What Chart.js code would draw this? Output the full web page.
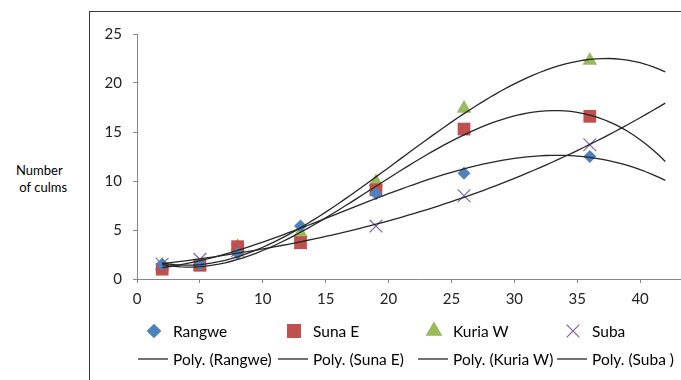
<!DOCTYPE html>
<html>
<head>
<meta charset="utf-8">
<script src="https://cdn.jsdelivr.net/npm/chart.js@4.4.1/dist/chart.umd.min.js"></script>
<style>
  html, body { margin: 0; padding: 0; background: #fff; width: 681px; height: 380px; overflow: hidden; }
  #frame { position: absolute; left: 89px; top: 11px; width: 700px; height: 400px;
           border-left: 1.5px solid #3a3a3a; border-top: 1.5px solid #3a3a3a; }
  #wrap { position: absolute; left: 0; top: 0; width: 760px; height: 380px; }
  #ylab { position: absolute; left: 16px; top: 162px; width: 60px; text-align: left;
          font: 13px Lato, sans-serif; line-height: 17px; color: #000; white-space: nowrap; }
</style>
</head>
<body>
<div id="frame"></div>
<div id="ylab">Number<br>&nbsp;of culms</div>
<div id="wrap"><canvas id="chart" width="760" height="380"></canvas></div>
<script>
// sampling weeks (x) and culm counts per site
const weeks = [2, 5, 8, 13, 19, 26, 36];
const rangwe = [1.5, 1.5, 2.6, 5.4, 8.7, 10.8, 12.5];
const sunaE = [1.0, 1.4, 3.3, 3.7, 9.1, 15.3, 16.6];
const kuriaW = [1.4, 1.3, 3.3, 4.7, 9.9, 17.4, 22.3];
const suba = [1.5, 2.0, 2.9, 3.7, 5.4, 8.5, 13.7];

const siteNames = ['Rangwe', 'Suna E', 'Kuria W', 'Suba'];
const trendNames = ['Poly. (Rangwe)', 'Poly. (Suna E)', 'Poly. (Kuria W)', 'Poly. (Suba )'];
const xTicks = [0, 5, 10, 15, 20, 25, 30, 35, 40, 45];
const yTicks = [0, 5, 10, 15, 20, 25];

const colors = ['#4F81BD', '#C0504D', '#9BBB59', '#8064A2'];
const styles = ['rectRot', 'rect', 'triangle', 'crossRot'];
const radii = [6.5, 9, 8.5, 9];
const FONT = 'Lato, sans-serif';

// 3rd order least squares fit, like the spreadsheet "Poly." trendline
function polyFit(xs, ys, order) {
  const n = order + 1;
  const A = [];
  for (let i = 0; i < n; i++) {
    A.push([]);
    for (let j = 0; j < n; j++) {
      A[i].push(xs.reduce((s, x) => s + Math.pow(x, i + j), 0));
    }
    A[i].push(xs.reduce((s, x, k) => s + Math.pow(x, i) * ys[k], 0));
  }
  for (let c = 0; c < n; c++) {
    let p = c;
    for (let r = c + 1; r < n; r++) if (Math.abs(A[r][c]) > Math.abs(A[p][c])) p = r;
    [A[c], A[p]] = [A[p], A[c]];
    for (let r = 0; r < n; r++) {
      if (r === c) continue;
      const f = A[r][c] / A[c][c];
      for (let k = c; k <= n; k++) A[r][k] -= f * A[c][k];
    }
  }
  return A.map((row, i) => row[n] / row[i]);
}

function trendPoints(ys) {
  const coef = polyFit(weeks, ys, 3);
  const pts = [];
  for (let x = 2; x <= 42.001; x += 0.5) {
    pts.push({ x: x, y: coef.reduce((s, c, i) => s + c * Math.pow(x, i), 0) });
  }
  return pts;
}

const series = [rangwe, sunaE, kuriaW, suba];

const datasets = [];
series.forEach((ys, i) => {
  datasets.push({
    label: trendNames[i],
    data: trendPoints(ys),
    showLine: true,
    borderColor: '#262626',
    borderWidth: 1.3,
    pointRadius: 0,
    tension: 0,
    order: 0
  });
});
series.forEach((ys, i) => {
  datasets.push({
    label: siteNames[i],
    data: weeks.map((w, k) => ({ x: w, y: ys[k] })),
    showLine: false,
    pointStyle: styles[i],
    pointRadius: radii[i],
    backgroundColor: colors[i],
    borderColor: colors[i],
    borderWidth: styles[i] === 'crossRot' ? 1.2 : 0,
    order: 1
  });
});

// legend drawn by hand in two rows of four columns
const legendPlugin = {
  id: 'manualLegend',
  afterDraw(chart) {
    const ctx = chart.ctx;
    const cols = [137, 277, 417, 556];
    ctx.save();
    ctx.font = '15.5px ' + FONT;
    ctx.textBaseline = 'middle';
    cols.forEach((cx, i) => {
      ctx.fillStyle = colors[i];
      ctx.strokeStyle = colors[i];
      ctx.lineWidth = 1.2;
      Chart.helpers.drawPoint(ctx, { pointStyle: styles[i], radius: radii[i], borderWidth: 1.2, rotation: 0 }, cx + 17, 331);
      ctx.fillStyle = '#000';
      ctx.fillText(siteNames[i], cx + 36, 332);

      ctx.strokeStyle = '#262626';
      ctx.lineWidth = 1.3;
      ctx.beginPath();
      ctx.moveTo(cx + 1, 359);
      ctx.lineTo(cx + 31, 359);
      ctx.stroke();
      ctx.fillText(trendNames[i], cx + 36, 360);
    });
    ctx.restore();
  }
};

new Chart(document.getElementById('chart'), {
  type: 'scatter',
  data: { datasets: datasets },
  plugins: [legendPlugin],
  options: {
    responsive: false,
    animation: false,
    layout: { padding: { left: 89, right: 57, top: 34, bottom: 61 } },
    plugins: { legend: { display: false }, tooltip: { enabled: false } },
    scales: {
      x: {
        type: 'linear',
        min: 0,
        max: 45,
        afterBuildTicks: (s) => { s.ticks = xTicks.map(v => ({ value: v })); },
        afterFit: (s) => { s.height = 40; },
        grid: { drawOnChartArea: false, drawTicks: true, tickLength: 4, color: '#868686' },
        border: { color: '#868686', width: 1 },
        ticks: { color: '#222', font: { family: FONT, size: 15 }, padding: 7, maxRotation: 0 }
      },
      y: {
        type: 'linear',
        min: 0,
        max: 25,
        afterBuildTicks: (s) => { s.ticks = yTicks.map(v => ({ value: v })); },
        afterFit: (s) => { s.width = 48; },
        grid: { drawOnChartArea: false, drawTicks: true, tickLength: 4, color: '#868686' },
        border: { color: '#868686', width: 1 },
        ticks: { color: '#222', font: { family: FONT, size: 15 }, padding: 11 }
      }
    }
  }
});
</script>
</body>
</html>
